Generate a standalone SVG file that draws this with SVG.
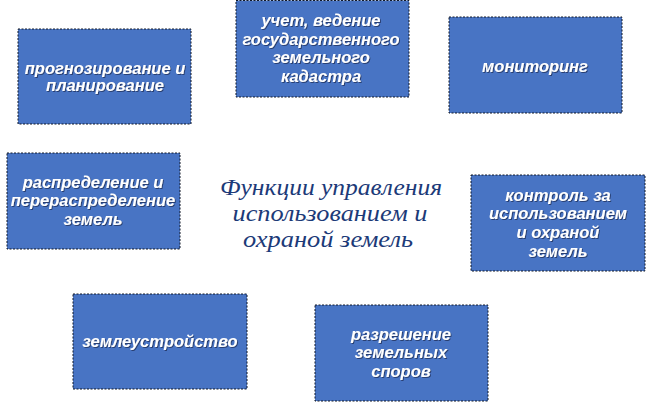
<svg xmlns="http://www.w3.org/2000/svg" width="646" height="402" viewBox="0 0 646 402">
<defs>
<filter id="sh" x="-10%" y="-20%" width="120%" height="140%"><feDropShadow dx="1" dy="1" stdDeviation="0.4" flood-color="#1a2a50" flood-opacity="0.7"/></filter>
</defs>
<style>
.box{fill:#4874C4;stroke:#101828;stroke-width:1;stroke-dasharray:2 1.5}
.t{font-family:"Liberation Sans",Arial,sans-serif;font-size:16.5px;font-weight:bold;font-style:italic;fill:#ffffff;text-anchor:middle;filter:url(#sh)}
.c{font-family:"Liberation Serif","Times New Roman",serif;font-size:23px;font-style:italic;fill:#1C3A78;text-anchor:middle}
</style>
<rect width="646" height="402" fill="#ffffff"/>
<g id="n1"><rect class="box" x="18" y="29" width="173" height="95"/>
<text class="t" x="105" y="74">прогнозирование и</text><text class="t" x="105" y="91">планирование</text></g>
<g id="n2"><rect class="box" x="236" y="0.5" width="173" height="96.5"/>
<text class="t" x="321" y="26">учет, ведение</text><text class="t" x="321" y="45">государственного</text><text class="t" x="321" y="63">земельного</text><text class="t" x="321" y="82">кадастра</text></g>
<g id="n3"><rect class="box" x="449" y="17" width="173" height="96"/>
<text class="t" x="535" y="72">мониторинг</text></g>
<g id="n4"><rect class="box" x="7" y="153" width="173" height="96"/>
<text class="t" x="93" y="188">распределение и</text><text class="t" x="93" y="206">перераспределение</text><text class="t" x="93" y="225">земель</text></g>
<g id="n5"><rect class="box" x="471" y="175" width="174" height="96"/>
<text class="t" x="558" y="201">контроль за</text><text class="t" x="558" y="219">использованием</text><text class="t" x="558" y="238">и охраной</text><text class="t" x="558" y="257">земель</text></g>
<g id="n6"><rect class="box" x="73" y="294" width="174" height="95"/>
<text class="t" x="160" y="347">землеустройство</text></g>
<g id="n7"><rect class="box" x="315" y="305" width="173" height="96"/>
<text class="t" x="401" y="340">разрешение</text><text class="t" x="401" y="358">земельных</text><text class="t" x="401" y="377">споров</text></g>
<g id="center">
<text class="c" x="331" y="195" textLength="222" lengthAdjust="spacingAndGlyphs">Функции управления</text>
<text class="c" x="330" y="221" textLength="195" lengthAdjust="spacingAndGlyphs">использованием и</text>
<text class="c" x="328" y="247" textLength="170" lengthAdjust="spacingAndGlyphs">охраной земель</text>
</g>
<g id="connectors"></g>
</svg>
